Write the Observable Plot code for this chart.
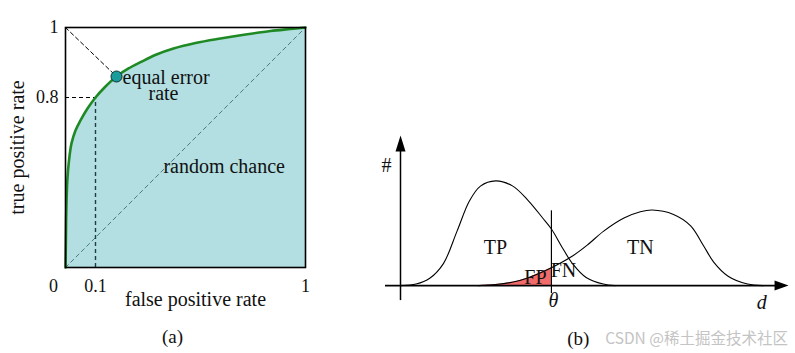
<!DOCTYPE html>
<html>
<head>
<meta charset="utf-8">
<script src="https://cdn.jsdelivr.net/npm/d3@7"></script>
<script src="https://cdn.jsdelivr.net/npm/@observablehq/plot@0.6"></script>
<style>
  html, body { margin: 0; padding: 0; background: #fff; }
  #wrap { position: relative; width: 795px; height: 353px; overflow: hidden; background: #fff; }
  #wrap svg { position: absolute; top: 0; }
</style>
</head>
<body>
<div id="wrap"></div>
<script>
// ---------- Panel (a): ROC curve ----------
const rocFpr = [0, 0.0013, 0.0027, 0.006, 0.0117, 0.02, 0.0333, 0.05, 0.0733, 0.1, 0.1386, 0.19, 0.2414, 0.2929, 0.3614, 0.4343, 0.5286, 0.6357, 0.7429, 0.85, 0.9357, 1];
const rocTpr = [0, 0.127, 0.268, 0.409, 0.504, 0.584, 0.645, 0.692, 0.748, 0.8, 0.8286, 0.86, 0.8829, 0.9009, 0.9229, 0.94, 0.9557, 0.9686, 0.98, 0.99, 0.9957, 1];
const randomChance = [0, 1];
const eerPoint = {fpr: 0.19, tpr: 0.86};
const operatingPoint = {fpr: 0.1, tpr: 0.8};
const fprTicks = [0.1, 1];
const tprTicks = [0.8, 1];

// ---------- Panel (b): score distributions ----------
const tpD = [0, 0.4, 0.75, 1.1, 1.45, 1.77, 2.05, 2.44, 2.87, 3.28, 3.64, 3.87, 4.15, 4.41, 4.76, 5.2, 5.5];
const tpY = [0, 0.015, 0.07, 0.21, 0.52, 0.81, 0.95, 1.0, 0.952, 0.81, 0.648, 0.54, 0.362, 0.21, 0.078, 0.015, 0];
const tnD = [2.0, 2.44, 2.86, 3.28, 3.87, 4.4, 4.8, 5.21, 5.73, 6.15, 6.45, 7.0, 7.44, 7.77, 8.03, 8.4, 8.9, 9.3];
const tnY = [0, 0.01, 0.032, 0.076, 0.171, 0.28, 0.39, 0.52, 0.645, 0.705, 0.722, 0.68, 0.571, 0.381, 0.225, 0.09, 0.015, 0];
const theta = 3.87;

const roc = rocFpr.map((x, i) => ({x, y: rocTpr[i]}));
const tp = tpD.map((d, i) => ({d, y: tpY[i]}));
const tn = tnD.map((d, i) => ({d, y: tnY[i]}));

const serif = "'Liberation Serif', 'Times New Roman', serif";

// The figure's axes are drawn piecewise-linear (0.1 and 0.8 are stretched)
const warpX = d3.scaleLinear().domain([0, 0.1, 1]).range([0, 0.125, 1]);
const warpY = d3.scaleLinear().domain([0, 0.8, 1]).range([0, 0.7083, 1]);

const plotA = Plot.plot({
  width: 330, height: 353,
  marginLeft: 65, marginRight: 25, marginTop: 27, marginBottom: 86,
  x: {domain: [0, 1], transform: warpX, axis: null},
  y: {domain: [0, 1], transform: warpY, axis: null},
  style: {fontFamily: serif, background: "transparent", overflow: "visible"},
  marks: [
    Plot.areaY(roc, {x: "x", y: "y", fill: "#b3dfe2", curve: "catmull-rom"}),
    Plot.line(randomChance, {x: d => d, y: d => d, stroke: "#3f6f75", strokeWidth: 0.9, strokeDasharray: "4,3.5"}),
    Plot.line([{fpr: randomChance[0], tpr: randomChance[1]}, eerPoint], {x: "fpr", y: "tpr", stroke: "#000", strokeWidth: 1, strokeDasharray: "4,3"}),
    Plot.ruleY([operatingPoint], {y: "tpr", x1: 0, x2: "fpr", stroke: "#000", strokeWidth: 1.2, strokeDasharray: "4,3"}),
    Plot.ruleX([operatingPoint], {x: "fpr", y1: 0, y2: "tpr", stroke: "#1e3e44", strokeWidth: 1.4, strokeDasharray: "4,3"}),
    Plot.line(roc, {x: "x", y: "y", stroke: "#1f8a24", strokeWidth: 2.6, curve: "catmull-rom"}),
    Plot.frame({stroke: "#000", strokeWidth: 1.6}),
    Plot.dot([eerPoint], {x: "fpr", y: "tpr", r: 5.5, fill: "#1a9c9c", stroke: "#0b3333", strokeWidth: 1}),
    Plot.text([eerPoint], {x: "fpr", y: "tpr", text: () => "equal error", textAnchor: "start", dx: 6, dy: 1.5, fontSize: 20, fill: "#111"}),
    Plot.text([eerPoint], {x: "fpr", y: "tpr", text: () => "rate", dx: 47, dy: 17, fontSize: 20, fill: "#111"}),
    Plot.text(["random chance"], {x: 0.391, y: 0.475, text: d => d, textAnchor: "start", fontSize: 20, fill: "#111"}),
    Plot.text(fprTicks, {x: d => d, frameAnchor: "bottom", dy: 24, text: d => String(d), fontSize: 18, fill: "#111"}),
    Plot.text([0], {x: d => d, frameAnchor: "bottom", dy: 24, dx: -12, text: d => String(d), fontSize: 18, fill: "#111"}),
    Plot.text(tprTicks, {y: d => d, frameAnchor: "left", dx: -7, textAnchor: "end", text: d => String(d), fontSize: 18, fill: "#111"}),
    Plot.text(["false positive rate"], {frameAnchor: "bottom", dx: 10, dy: 38, text: d => d, fontSize: 20, fill: "#111"}),
    Plot.text(["true positive rate"], {x: -0.16, frameAnchor: "left", textAnchor: "middle", rotate: -90, text: d => d, fontSize: 20, fill: "#111"}),
    Plot.text(["(a)"], {frameAnchor: "bottom", dx: -13, dy: 75, text: d => d, fontSize: 19, fill: "#111"})
  ]
});

const triUp = {draw(ctx) { ctx.moveTo(0, 0); ctx.lineTo(5, 16); ctx.lineTo(-5, 16); ctx.closePath(); }};
const triRight = {draw(ctx) { ctx.moveTo(0, 0); ctx.lineTo(-14, 5); ctx.lineTo(-14, -5); ctx.closePath(); }};

const plotB = Plot.plot({
  width: 465, height: 353,
  marginLeft: 70, marginRight: 5, marginTop: 128, marginBottom: 26,
  x: {domain: [0, 10], axis: null},
  y: {domain: [-0.4, 1.5], axis: null},
  style: {fontFamily: serif, background: "transparent", overflow: "visible"},
  marks: [
    Plot.areaY(tn.filter(p => p.d <= theta), {x: "d", y: "y", fill: "#f26b6b", curve: "catmull-rom"}),
    Plot.line(tp, {x: "d", y: "y", stroke: "#000", strokeWidth: 1.1, curve: "catmull-rom"}),
    Plot.line(tn, {x: "d", y: "y", stroke: "#000", strokeWidth: 1.1, curve: "catmull-rom"}),
    Plot.ruleX([theta], {y1: -0.076, y2: 0.714, stroke: "#000", strokeWidth: 1.2}),
    Plot.ruleY([0], {x1: -0.385, x2: 9.7, stroke: "#000", strokeWidth: 1.8}),
    Plot.ruleX([0], {y1: -0.143, y2: 1.3, stroke: "#000", strokeWidth: 1.5}),
    Plot.dot([{d: 0, y: 1.433}], {x: "d", y: "y", symbol: triUp, fill: "#000", stroke: null}),
    Plot.dot([{d: 9.95, y: 0}], {x: "d", y: "y", symbol: triRight, fill: "#000", stroke: null}),
    Plot.text(["#"], {x: -0.36, y: 1.143, text: d => d, fontSize: 20, fill: "#111"}),
    Plot.text(["θ"], {x: 3.92, y: -0.143, text: d => d, fontSize: 20, fontStyle: "italic", fill: "#111"}),
    Plot.text(["d"], {x: 9.26, y: -0.16, text: d => d, fontSize: 20, fontStyle: "italic", fill: "#111"}),
    Plot.text(["TP"], {x: 2.436, y: 0.362, text: d => d, fontSize: 20, fill: "#111"}),
    Plot.text(["TN"], {x: 6.15, y: 0.362, text: d => d, fontSize: 20, fill: "#111"}),
    Plot.text(["FP"], {x: 3.46, y: 0.076, text: d => d, fontSize: 20, fill: "#111"}),
    Plot.text(["FN"], {x: 4.18, y: 0.143, text: d => d, fontSize: 20, fill: "#111"}),
    Plot.text(["(b)"], {x: 4.56, y: -0.506, text: d => d, fontSize: 19, fill: "#111"}),
    Plot.text(["CSDN @稀土掘金技术社区"], {x: 5.25, y: -0.506, text: d => d, textAnchor: "start", fontSize: 15.5, fill: "#c4c4c4", fontFamily: "'Noto Sans CJK SC', 'Noto Sans', sans-serif"})
  ]
});

const wrap = document.getElementById("wrap");
plotA.style.left = "0px";
plotB.style.left = "330px";
wrap.appendChild(plotA);
wrap.appendChild(plotB);
</script>
</body>
</html>
